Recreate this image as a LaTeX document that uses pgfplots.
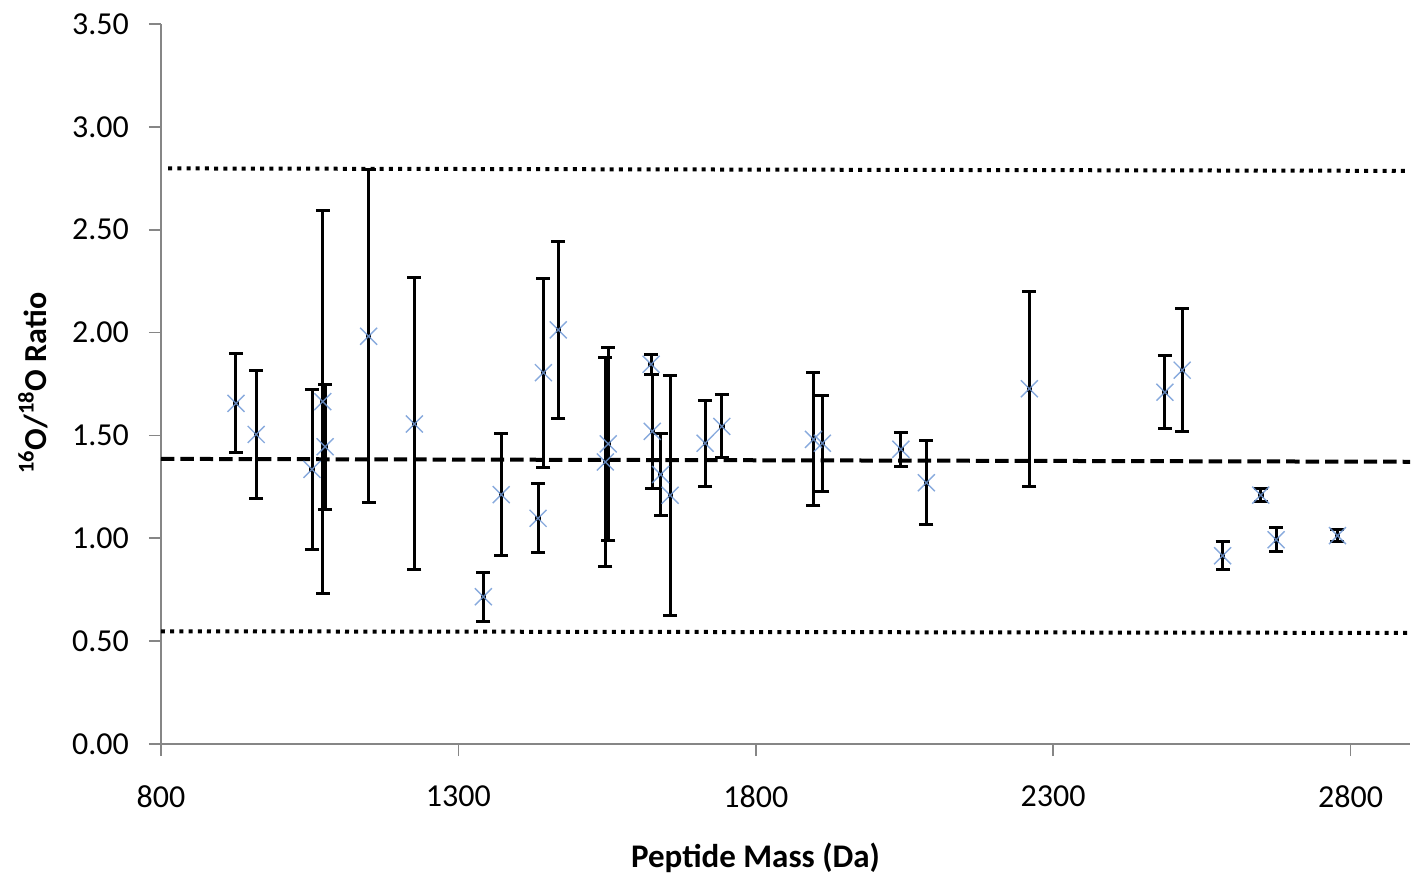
\documentclass[border=0pt]{standalone}
\usepackage{fontspec}
\setmainfont{Carlito}
\usepackage{pgfplots}
\pgfplotsset{compat=1.18}
\usepackage{pgfplotstable}
\definecolor{axgray}{RGB}{134,134,134}
\definecolor{xblue}{RGB}{115,155,215}

\pgfplotstableread{
x y e
926 1.656 0.240
960 1.505 0.310
1054 1.335 0.390
1072 1.664 0.930
1076 1.445 0.305
1149 1.982 0.810
1226 1.556 0.710
1342 0.716 0.120
1372 1.212 0.298
1434 1.097 0.167
1443 1.805 0.460
1468 2.013 0.430
1547 1.371 0.507
1552 1.459 0.470
1624 1.846 0.048
1626 1.520 0.278
1640 1.310 0.197
1656 1.209 0.583
1715 1.462 0.209
1743 1.544 0.153
1897 1.481 0.324
1912 1.462 0.233
2044 1.433 0.082
2087 1.270 0.205
2260 1.727 0.473
2488 1.710 0.177
2517 1.817 0.298
2585 0.915 0.069
2649 1.210 0.033
2675 0.993 0.058
2778 1.013 0.030
}\datatable

\begin{document}
\begin{tikzpicture}
\path[use as bounding box] (-80.5pt,-67.5pt) rectangle (625.5pt,372pt);
\begin{axis}[
  at={(0,0)}, anchor=south west,
  scale only axis, width=624.5pt, height=360pt,
  xmin=800, xmax=2900, ymin=0, ymax=3.5,
  axis x line*=bottom, axis y line*=left,
  axis line style={draw=axgray, line width=0.8pt},
  tick style={draw=axgray, line width=0.8pt},
  tick align=outside, major tick length=6pt,
  xtick={800,1300,1800,2300,2800},
  xticklabels={800,1300,1800,2300,2800},
  ytick={0,0.5,1,1.5,2,2.5,3,3.5},
  yticklabels={0.00,0.50,1.00,1.50,2.00,2.50,3.00,3.50},
  xticklabel style={font=\fontsize{16}{19}\selectfont, yshift=-11.5pt},
  yticklabel style={font=\fontsize{16}{19}\selectfont, xshift=-6.5pt},
  xlabel={Peptide Mass (Da)},
  ylabel={\textsuperscript{16}O/\textsuperscript{18}O Ratio},
  xlabel style={font=\bfseries\fontsize{16.5}{19}\selectfont, at={(axis description cs:0.476,-0.1583)}, anchor=center},
  ylabel style={font=\bfseries\fontsize{16}{19}\selectfont, at={(axis description cs:-0.1025,0.501)}, anchor=center},
]
\addplot[black, line width=2pt, dash pattern=on 6.7pt off 3pt] coordinates {(800,1.386) (2900,1.372)};
\addplot[black, line width=2pt, dash pattern=on 2pt off 2.6pt] coordinates {(812,2.798) (2900,2.786)};
\addplot[black, line width=2pt, dash pattern=on 2pt off 2.6pt] coordinates {(800,0.548) (2900,0.540)};
\addplot[only marks, mark=square*, mark size=1.1pt, black,
  error bars/.cd, y dir=both, y explicit,
  error bar style={line width=1.5pt, black},
  error mark options={rotate=90, mark size=3.5pt, line width=1.5pt, black}]
  table[x=x, y=y, y error=e]{\datatable};
\addplot[only marks, mark=x, mark size=6pt, xblue, mark options={line width=0.7pt, opacity=0.85}]
  table[x=x, y=y]{\datatable};
\end{axis}
\end{tikzpicture}
\end{document}
